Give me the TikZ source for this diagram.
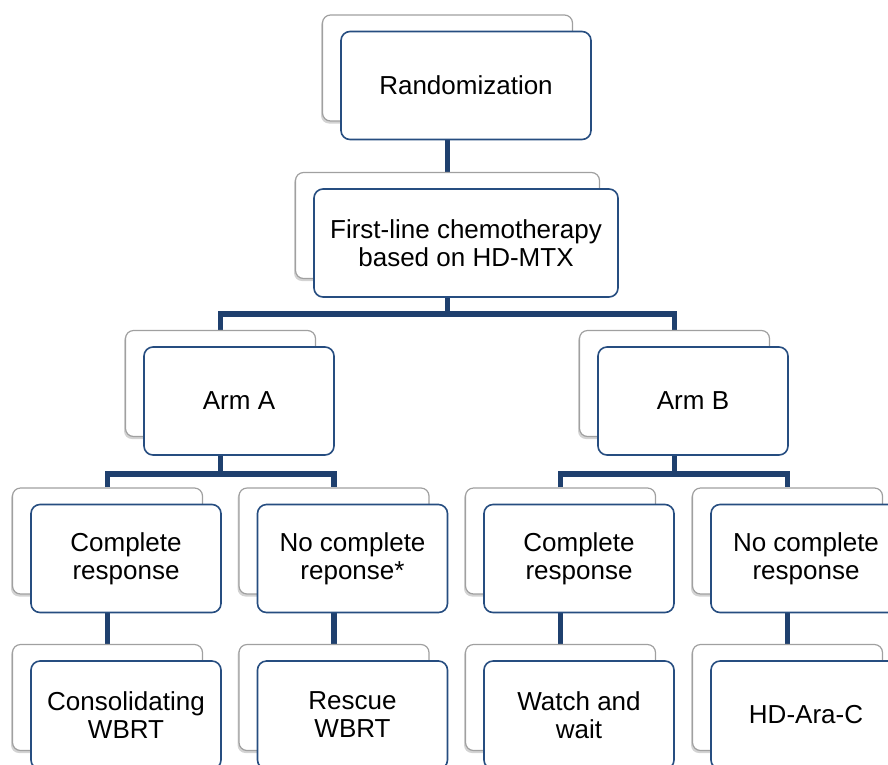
\documentclass[tikz,border=0pt]{standalone}
\usepackage{fontspec}
\setmainfont{Liberation Sans}
\usetikzlibrary{shadows,backgrounds}
\definecolor{frontblue}{RGB}{38,77,128}
\definecolor{linkblue}{RGB}{31,64,110}
\definecolor{backgray}{RGB}{160,160,160}
\tikzset{
  backbox/.style={draw=backgray, line width=1.2pt, fill=white, rounded corners=8pt,
    minimum height=106pt, inner sep=0pt,
    drop shadow={shadow xshift=-1.5pt, shadow yshift=-2.5pt, opacity=0.35, fill=gray}},
  frontbox/.style={draw=frontblue, line width=1.6pt, fill=white, rounded corners=9pt,
    minimum height=108pt, inner sep=0pt, align=center,
    font=\fontsize{26}{28}\selectfont},
  link/.style={draw=linkblue, line width=5.5pt}
}
\newcommand\duobox[5]{%
  \node[backbox, minimum width=#4pt] (#1b) at ({#2-18.5},{#3-17.5}) {};
  \node[frontbox, minimum width=#4pt] (#1) at (#2,#3) {#5};
}
\begin{document}
\begin{tikzpicture}[x=1pt,y=-1pt]
\useasboundingbox (0,0) rectangle (888,764);
\duobox{rand}{466}{85.5}{250}{Randomization}
\duobox{first}{466}{243}{304}{First-line chemotherapy\\based on HD-MTX}
\duobox{armA}{239}{401}{190}{Arm A}
\duobox{armB}{693}{401}{190}{Arm B}
\duobox{crA}{126}{558.5}{190}{Complete\\response}
\duobox{ncrA}{352.5}{558.5}{190}{No complete\\reponse*}
\duobox{crB}{579}{558.5}{190}{Complete\\response}
\duobox{ncrB}{806}{558.5}{190}{No complete\\response}
\duobox{cons}{126}{715}{190}{Consolidating\\WBRT}
\duobox{resc}{352.5}{715}{190}{Rescue\\WBRT}
\duobox{watch}{579}{715}{190}{Watch and\\wait}
\duobox{hdara}{806}{715}{190}{HD-Ara-C}
\begin{scope}[on background layer]
\draw[link] (randb |- rand.south) -- (firstb.north);
\draw[link] (firstb |- first.south) -- ++(0,16) coordinate (j1);
\draw[link] (armAb.north) |- (j1) -| (armBb.north);
\draw[link] (armAb |- armA.south) -- ++(0,18) coordinate (j2);
\draw[link] (crAb.north) |- (j2) -| (ncrAb.north);
\draw[link] (armBb |- armB.south) -- ++(0,18) coordinate (j3);
\draw[link] (crBb.north) |- (j3) -| (ncrBb.north);
\draw[link] (crAb |- crA.south) -- (consb.north);
\draw[link] (ncrAb |- ncrA.south) -- (rescb.north);
\draw[link] (crBb |- crB.south) -- (watchb.north);
\draw[link] (ncrBb |- ncrB.south) -- (hdarab.north);
\end{scope}
\end{tikzpicture}
\end{document}
